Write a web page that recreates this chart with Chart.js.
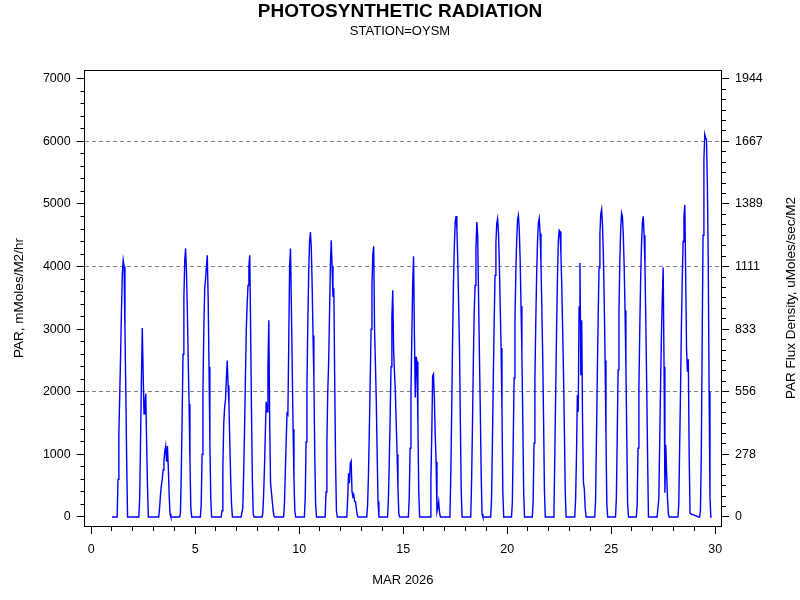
<!DOCTYPE html>
<html>
<head>
<meta charset="utf-8">
<script src="https://cdn.jsdelivr.net/npm/chart.js@4.4.1/dist/chart.umd.min.js"></script>
<style>
  html, body { margin: 0; padding: 0; background: #fff; }
  #c { display: block; }
</style>
</head>
<body>
<canvas id="c" width="800" height="600"></canvas>
<script>
// ---- Data (hourly PAR readings, mMoles/M2/hr), sample hours 05..20 of each day ----
const sampleHours = [5, 6, 7, 8, 9, 10, 11, 12, 13, 14, 15, 16, 17, 18, 19, 20];
const recordStart = [1, 0, 0]; // day, hour, PAR of first reading

const mar01 = [0, 0, 600, 1350, 1950, 2600, 3300, 3900, 4100, 4000, 3000, 2000, 900, 0, 0, 0];
const mar02 = [0, 0, 0, 300, 1200, 2200, 3020, 2300, 1650, 1800, 1970, 1200, 500, 0, 0, 0];
const mar03 = [0, 0, 150, 350, 500, 600, 750, 900, 1050, 1133, 883, 1133, 800, 350, 50, 0];
const mar04 = [0, 0, 50, 700, 1600, 2600, 3500, 4100, 4290, 3900, 3300, 2500, 1800, 900, 150, 0];
const mar05 = [0, 0, 200, 1000, 2000, 3000, 3650, 3800, 4000, 4180, 3500, 2400, 1200, 300, 0, 0];
const mar06 = [0, 0, 100, 800, 1500, 1750, 1870, 2200, 2500, 2100, 1800, 1180, 600, 200, 0, 0];
const mar07 = [0, 0, 150, 700, 1400, 2200, 3000, 3400, 3700, 4000, 4180, 3000, 1700, 600, 50, 0];
const mar08 = [0, 50, 350, 800, 1350, 1840, 1680, 2400, 3143, 1500, 540, 400, 250, 100, 10, 0];
const mar09 = [0, 0, 200, 700, 1200, 1650, 1630, 2800, 4000, 4287, 3400, 2400, 1400, 600, 100, 0];
const mar10 = [0, 0, 300, 1200, 2100, 3100, 3900, 4400, 4553, 4300, 3700, 2900, 2200, 1000, 200, 0];
const mar11 = [0, 0, 400, 1200, 2000, 2452, 3200, 4000, 4420, 4000, 3515, 3654, 2200, 900, 100, 0];
const mar12 = [0, 0, 0, 300, 700, 540, 860, 894, 400, 330, 351, 245, 245, 138, 30, 0];
const mar13 = [0, 0, 200, 700, 1400, 2200, 3000, 3700, 4200, 4324, 3000, 2450, 1850, 1000, 250, 0];
const mar14 = [0, 0, 300, 900, 1600, 2400, 3200, 3622, 2665, 2300, 2000, 1500, 1000, 450, 50, 0];
const mar15 = [0, 0, 300, 1100, 2000, 2900, 3700, 4165, 2900, 1910, 2558, 2478, 1500, 400, 0, 0];
const mar16 = [0, 0, 0, 600, 1300, 2250, 2282, 1900, 1300, 883, 85, 150, 245, 64, 0, 0];
const mar17 = [0, 50, 700, 1700, 2800, 3700, 4300, 4700, 4808, 4600, 4100, 3400, 2700, 1500, 400, 0];
const mar18 = [0, 0, 600, 1500, 2500, 3300, 3700, 4300, 4713, 4500, 3500, 2600, 1700, 700, 50, 0];
const mar19 = [0, 300, 1200, 2200, 3100, 3860, 4380, 4690, 4766, 4530, 4050, 3340, 2700, 1700, 400, 0];
const mar20 = [0, 240, 1200, 2220, 3130, 3900, 4430, 4750, 4819, 4580, 4100, 3370, 2600, 1590, 430, 0];
const mar21 = [0, 260, 1180, 2190, 3100, 3860, 4390, 4700, 4771, 4530, 4060, 3340, 2580, 1570, 420, 0];
const mar22 = [0, 100, 1000, 2000, 3000, 3800, 4400, 4580, 4560, 4200, 3700, 3000, 2300, 1400, 400, 0];
const mar23 = [0, 0, 300, 1000, 1947, 1680, 3356, 4058, 2266, 3143, 1500, 550, 450, 150, 0, 0];
const mar24 = [0, 250, 1230, 2260, 3190, 3980, 4520, 4840, 4915, 4670, 4180, 3440, 2500, 1300, 200, 0];
const mar25 = [0, 300, 1300, 2350, 3300, 4100, 4600, 4856, 4800, 4500, 4000, 3300, 2400, 1300, 200, 0];
const mar26 = [0, 200, 1100, 2050, 3000, 3800, 4350, 4700, 4803, 4500, 4000, 3100, 2100, 1000, 0, 0];
const mar27 = [0, 0, 300, 1200, 2100, 2900, 3500, 3984, 2400, 388, 1149, 700, 300, 50, 0, 0];
const mar28 = [0, 200, 1100, 2000, 3000, 3800, 4400, 4800, 4985, 3800, 2665, 2319, 2520, 1000, 60, 50];
const mar29 = [0, 0, 100, 1000, 2800, 4500, 5700, 6111, 6050, 6030, 5300, 4100, 2000, 300, 0, 0];

const dayNumbers = [1,2,3,4,5,6,7,8,9,10,11,12,13,14,15,16,17,18,19,20,21,22,23,24,25,26,27,28,29];
const dayReadings = [mar01, mar02, mar03, mar04, mar05, mar06, mar07, mar08, mar09, mar10,
                     mar11, mar12, mar13, mar14, mar15, mar16, mar17, mar18, mar19, mar20,
                     mar21, mar22, mar23, mar24, mar25, mar26, mar27, mar28, mar29];

// ---- Tick labels ----
const xMajorTicks = [0, 5, 10, 15, 20, 25, 30];
const parTickLabels = ['0', '1000', '2000', '3000', '4000', '5000', '6000', '7000'];
const fluxTickLabels = ['0', '278', '556', '833', '1111', '1389', '1667', '1944'];

// ---- Build the series ----
const points = [{ x: recordStart[0] + recordStart[1] / 24, y: recordStart[2] }];
dayNumbers.forEach((d, i) => {
  sampleHours.forEach((h, j) => {
    points.push({ x: d + h / 24, y: dayReadings[i][j] });
  });
});

const dayTicks = [];
for (let v = 0; v <= 30; v++) dayTicks.push(v);
const parMajor = parTickLabels.map((_, i) => i * 1000);
const parMinor = [];
for (let v = 0; v <= 7000; v += 200) parMinor.push(v);
const fluxMinor = [];
for (let i = 0; i <= 42; i++) fluxMinor.push(i * 1000 / 6);

const X_MIN = -0.31, X_MAX = 30.28;
const Y_MIN = -144, Y_MAX = 7140;

Chart.defaults.font.family = "'Liberation Sans', Arial, Helvetica, sans-serif";
Chart.defaults.color = '#000';

const align = p => Math.round(p - 0.5) + 0.5;

// minor tick marks placed with the chart's own scales
const minorTicks = {
  id: 'minorTicks',
  afterDraw(chart) {
    const { ctx, chartArea: a, scales } = chart;
    const left = align(a.left), right = align(a.right), bottom = align(a.bottom);
    ctx.save();
    ctx.strokeStyle = '#000';
    ctx.lineWidth = 1;
    ctx.beginPath();
    dayTicks.forEach(v => {
      if (xMajorTicks.includes(v)) return;
      const px = align(scales.x.getPixelForValue(v));
      ctx.moveTo(px, bottom);
      ctx.lineTo(px, bottom + 4.5);
    });
    parMinor.forEach(v => {
      if (v % 1000 === 0) return;
      const py = align(scales.y.getPixelForValue(v));
      ctx.moveTo(left - 4, py);
      ctx.lineTo(left, py);
    });
    fluxMinor.forEach((v, i) => {
      if (i % 6 === 0) return;
      const py = align(scales.y2.getPixelForValue(v));
      ctx.moveTo(right, py);
      ctx.lineTo(right + 4.5, py);
    });
    ctx.stroke();
    ctx.restore();
  }
};

const rightTitle = {
  id: 'rightTitle',
  afterDraw(chart) {
    const { ctx, chartArea } = chart;
    ctx.save();
    ctx.translate(791, (chartArea.top + chartArea.bottom) / 2);
    ctx.rotate(-Math.PI / 2);
    ctx.font = "13.5px 'Liberation Sans', Arial, sans-serif";
    ctx.fillStyle = '#000';
    ctx.textAlign = 'center';
    ctx.textBaseline = 'middle';
    ctx.fillText('PAR Flux Density, uMoles/sec/M2', 0, 0);
    ctx.restore();
  }
};

new Chart(document.getElementById('c'), {
  type: 'line',
  data: {
    datasets: [{
      data: points,
      borderColor: '#0000ff',
      borderWidth: 1.4,
      pointRadius: 0,
      tension: 0,
      fill: false,
      xAxisID: 'x',
      yAxisID: 'y'
    }]
  },
  options: {
    responsive: false,
    animation: false,
    devicePixelRatio: 1,
    layout: { padding: { left: 0, right: 0, top: 0, bottom: 0 } },
    plugins: {
      legend: { display: false },
      tooltip: { enabled: false },
      title: {
        display: true,
        text: 'PHOTOSYNTHETIC RADIATION',
        color: '#000',
        font: { size: 19, weight: 'bold' },
        padding: { top: 0, bottom: 0 }
      },
      subtitle: {
        display: true,
        text: 'STATION=OYSM',
        color: '#000',
        font: { size: 13 },
        padding: { top: 0.4, bottom: 31.2 }
      }
    },
    scales: {
      x: {
        type: 'linear',
        position: 'bottom',
        min: X_MIN,
        max: X_MAX,
        afterBuildTicks: s => { s.ticks = xMajorTicks.map(v => ({ value: v })); },
        afterFit: s => { s.height = 74; },
        ticks: {
          autoSkip: false, maxRotation: 0, minRotation: 0, padding: 8.5,
          font: { size: 12.5 }, color: '#000',
          callback: v => String(v)
        },
        grid: { drawOnChartArea: false, tickLength: 8, tickColor: '#000', tickWidth: 1 },
        border: { display: true, color: '#000', width: 1 },
        title: { display: true, text: 'MAR 2026', color: '#000', font: { size: 13 }, padding: { top: 0, bottom: 11.9 } }
      },
      x2: {
        type: 'linear',
        position: 'top',
        min: X_MIN,
        max: X_MAX,
        afterFit: s => { s.height = 0; },
        ticks: { display: false },
        grid: { display: false, drawTicks: false },
        border: { display: true, color: '#000', width: 1 }
      },
      y: {
        type: 'linear',
        position: 'left',
        min: Y_MIN,
        max: Y_MAX,
        afterBuildTicks: s => { s.ticks = parMajor.map(v => ({ value: v })); },
        afterFit: s => { s.width = 84.7; },
        ticks: {
          autoSkip: false, padding: 6, font: { size: 12.5 }, color: '#000',
          callback: (v, i) => parTickLabels[i]
        },
        grid: {
          color: c => (c.tick && c.tick.value > 0 && c.tick.value % 2000 === 0) ? '#808080' : 'rgba(0,0,0,0)',
          lineWidth: 1, tickLength: 8, tickColor: '#000', tickWidth: 1
        },
        border: { display: true, color: '#000', width: 1, dash: [4, 3] },
        title: { display: true, text: 'PAR, mMoles/M2/hr', color: '#000', font: { size: 13.5 }, padding: { top: 10.9, bottom: 0 } }
      },
      y2: {
        type: 'linear',
        position: 'right',
        min: Y_MIN,
        max: Y_MAX,
        afterBuildTicks: s => { s.ticks = parMajor.map(v => ({ value: v })); },
        afterFit: s => { s.width = 79; },
        ticks: {
          autoSkip: false, padding: 6, font: { size: 12.5 }, color: '#000',
          callback: (v, i) => fluxTickLabels[i]
        },
        grid: { drawOnChartArea: false, tickLength: 8, tickColor: '#000', tickWidth: 1 },
        border: { display: true, color: '#000', width: 1 }
      }
    }
  },
  plugins: [minorTicks, rightTitle]
});
</script>
</body>
</html>
